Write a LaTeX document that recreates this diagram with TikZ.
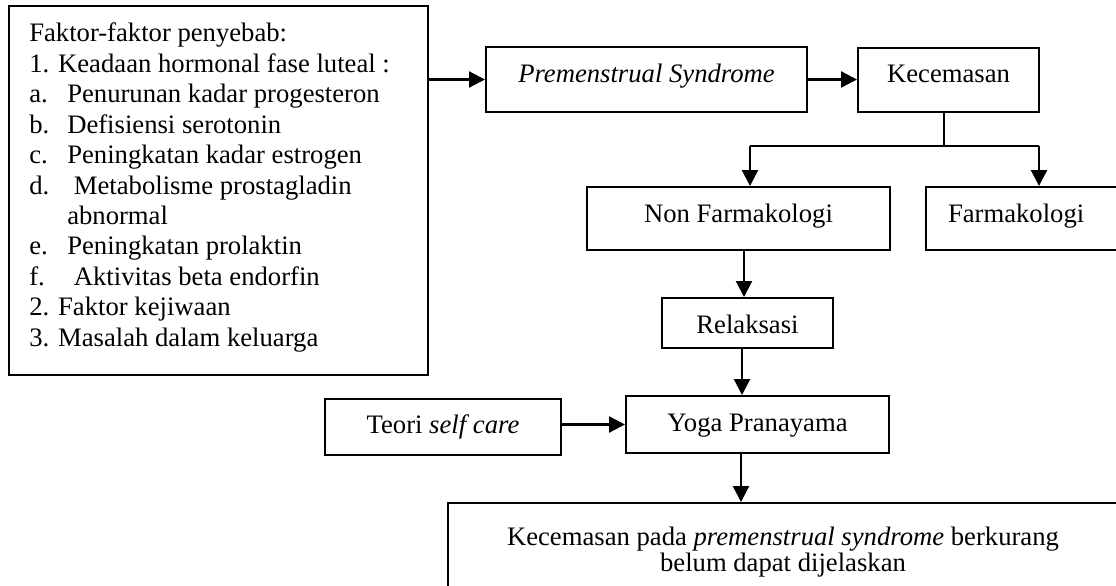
\documentclass[tikz,border=0pt]{standalone}
\usepackage{fontspec}
\setmainfont{Liberation Serif}
\usetikzlibrary{arrows.meta}
\begin{document}
\begin{tikzpicture}[x=0.75pt,y=-0.75pt,
  box/.style={draw, line width=1.5pt, inner sep=0pt, font=\fontsize{20}{22.8}\selectfont},
  bo/.style={text height=#1, text depth=0pt},
  arr/.style={line width=1.7pt, -{Triangle[length=12pt,width=12pt]}},
  ln/.style={line width=1.7pt}]
\fill[white] (0,0) rectangle (1116,585);
\useasboundingbox (0,0) rectangle (1116,585);
\clip (0,0) rectangle (1116,585);

% boxes
\node[box, minimum width=314.25pt, minimum height=276.75pt] (L) at (218.5,190.5) {};
\node[anchor=base west, inner sep=0pt, font=\fontsize{20}{22.8}\selectfont] (Ltext) at (29,42)
 {\vtop{\baselineskip=22.8pt
  \hbox{Faktor-faktor penyebab:}
  \hbox{1. Keadaan hormonal fase luteal :}
  \hbox{\makebox[28.5pt][l]{a.}Penurunan kadar progesteron}
  \hbox{\makebox[28.5pt][l]{b.}Defisiensi serotonin}
  \hbox{\makebox[28.5pt][l]{c.}Peningkatan kadar estrogen}
  \hbox{\makebox[28.5pt][l]{d.}\ Metabolisme prostagladin}
  \hbox{\makebox[28.5pt][l]{}abnormal}
  \hbox{\makebox[28.5pt][l]{e.}Peningkatan prolaktin}
  \hbox{\makebox[28.5pt][l]{f.}\ Aktivitas beta endorfin}
  \hbox{2. Faktor kejiwaan}
  \hbox{3. Masalah dalam keluarga}}};

\node[box, bo=5.25pt, minimum width=240.75pt, minimum height=48.75pt] (PS) at (646.5,79.5) {\itshape Premenstrual Syndrome};
\node[box, bo=4.5pt, minimum width=135.75pt, minimum height=48pt] (K) at (948.5,80) {Kecemasan};
\node[box, bo=6.3pt, minimum width=227.25pt, minimum height=47.25pt] (NF) at (738.5,218.5) {Non Farmakologi};
\node[box, bo=6.3pt, minimum width=168pt, minimum height=47.25pt] (F) at (1038,218.5) {\makebox[168pt][l]{\hspace{16.5pt}Farmakologi}};
\node[box, bo=15.5pt, minimum width=128.25pt, minimum height=37.5pt] (R) at (747.5,323) {Relaksasi};
\node[box, bo=9.75pt, minimum width=197.25pt, minimum height=42.75pt] (Y) at (757.5,424.5) {Yoga Pranayama};
\node[box, bo=9.5pt, minimum width=177pt, minimum height=42pt] (T) at (443,427) {Teori \textit{self care}};
\node[box, align=center, font=\fontsize{20}{19.5}\selectfont, minimum width=502.5pt, minimum height=73.5pt] (B) at (783,552)
 {Kecemasan pada \textit{premenstrual syndrome} berkurang\\belum dapat dijelaskan};

% connectors
\draw[arr] (L.east |- PS.west) -- (PS.west);
\draw[arr] (PS.east) -- (PS.east -| K.west);
\coordinate (j) at (944,146);
\coordinate (dl) at (750,146);
\coordinate (dr) at (1039,146);
\draw[line width=1.3pt] (j |- K.south) -- (j);
\draw[ln] (dl) -- (dr);
\draw[arr] (dl) -- (dl |- NF.north);
\draw[arr] (dr) -- (dr |- F.north);
\coordinate (c1) at (744,270);
\draw[arr] (c1 |- NF.south) -- (c1 |- R.north);
\coordinate (c2) at (742,370);
\draw[arr] (c2 |- R.south) -- (c2 |- Y.north);
\draw[arr] (Y.west -| T.east) -- (Y.west);
\coordinate (c3) at (741,480);
\draw[arr] (c3 |- Y.south) -- (c3 |- B.north);
\end{tikzpicture}
\end{document}
